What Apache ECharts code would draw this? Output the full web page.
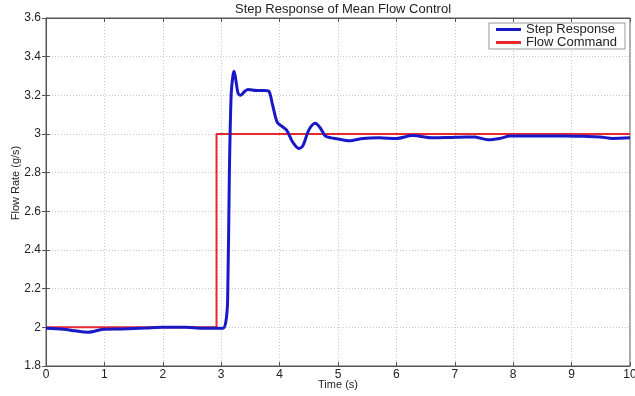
<!DOCTYPE html>
<html>
<head>
<meta charset="utf-8">
<script src="https://cdn.jsdelivr.net/npm/echarts@6/dist/echarts.min.js"></script>
<style>
  html, body { margin: 0; padding: 0; background: #fff; }
  #chart { width: 635px; height: 396px; }
</style>
</head>
<body>
<div id="chart"></div>
<script>
// step response samples (time s, flow g/s)
const respTime = [0, 0.3, 0.5, 0.72, 0.98, 1.3, 1.7, 2.0, 2.4, 2.64, 2.9, 3.03, 3.08, 3.11, 3.14, 3.17, 3.2, 3.22, 3.25, 3.29, 3.33, 3.4, 3.46, 3.6, 3.75, 3.82, 3.88, 3.96, 4.04, 4.12, 4.22, 4.33, 4.4, 4.5, 4.61, 4.7, 4.78, 4.88, 4.98, 5.19, 5.43, 5.7, 6.0, 6.28, 6.63, 6.9, 7.2, 7.35, 7.57, 7.77, 7.95, 8.3, 8.6, 8.92, 9.2, 9.49, 9.7, 10]
const respFlow = [1.995, 1.99, 1.982, 1.975, 1.99, 1.992, 1.996, 2.0, 2.0, 1.995, 1.995, 1.995, 2.03, 2.14, 2.8, 3.2, 3.3, 3.325, 3.28, 3.21, 3.2, 3.22, 3.23, 3.225, 3.225, 3.22, 3.15, 3.06, 3.04, 3.02, 2.96, 2.925, 2.94, 3.02, 3.055, 3.03, 2.99, 2.98, 2.975, 2.965, 2.977, 2.98, 2.977, 2.992, 2.98, 2.982, 2.985, 2.984, 2.97, 2.977, 2.99, 2.99, 2.99, 2.99, 2.988, 2.985, 2.977, 2.98]

// flow command
const cmdTime = [0, 2.92, 2.92, 10]
const cmdFlow = [2, 2, 3, 3]

const xTicks = [0, 1, 2, 3, 4, 5, 6, 7, 8, 9, 10]
const yTicks = [1.8, 2, 2.2, 2.4, 2.6, 2.8, 3, 3.2, 3.4, 3.6]

const font = 'Liberation Sans, Arial, sans-serif'

const chart = echarts.init(document.getElementById('chart'))

const gridLine = { show: true, lineStyle: { color: '#c8c8c8', type: [1, 2], width: 1 } }

const option = {
  animation: false,
  backgroundColor: '#fff',
  title: {
    text: 'Step Response of Mean Flow Control',
    left: 338,
    textAlign: 'center',
    top: -2,
    textStyle: { fontFamily: font, fontSize: 13, fontWeight: 'normal', color: '#222' }
  },
  legend: {
    right: 10,
    top: 23,
    orient: 'vertical',
    itemWidth: 25,
    itemHeight: 3,
    itemGap: 0,
    padding: [0, 8, 0, 7],
    borderColor: '#999',
    borderWidth: 1,
    backgroundColor: '#fff',
    icon: 'rect',
    textStyle: { fontFamily: font, fontSize: 13, lineHeight: 12, color: '#222' },
    data: ['Step Response', 'Flow Command']
  },
  grid: {
    left: 46, right: 5, top: 18, bottom: 30,
    containLabel: false, outerBoundsMode: 'none',
    show: true, borderColor: '#555', borderWidth: 1
  },
  xAxis: [{
    type: 'value',
    min: 0, max: 10, interval: 1,
    name: 'Time (s)',
    nameLocation: 'middle',
    nameGap: 13,
    nameMoveOverlap: false,
    nameTextStyle: { fontFamily: font, fontSize: 11, color: '#222' },
    axisLine: { show: true, lineStyle: { color: '#555' } },
    axisTick: { inside: true, length: 4, lineStyle: { color: '#555' } },
    axisLabel: { fontFamily: font, fontSize: 12, color: '#222', margin: 3,
      formatter: v => xTicks.includes(v) ? String(v) : '' },
    splitLine: gridLine
  }, {
    type: 'value', position: 'top', min: 0, max: 10, interval: 1,
    axisLine: { show: true, lineStyle: { color: '#555' } },
    axisTick: { inside: true, length: 4, lineStyle: { color: '#555' } },
    axisLabel: { show: false }, splitLine: { show: false }
  }],
  yAxis: [{
    type: 'value',
    min: 1.8, max: 3.6, interval: 0.2,
    name: 'Flow Rate (g/s)',
    nameLocation: 'middle',
    nameGap: 25,
    nameMoveOverlap: false,
    nameTextStyle: { fontFamily: font, fontSize: 11, color: '#222', padding: [0, 0, 0, 18] },
    axisLine: { show: true, lineStyle: { color: '#555' } },
    axisTick: { inside: true, length: 4, lineStyle: { color: '#555' } },
    axisLabel: { fontFamily: font, fontSize: 12, color: '#222', margin: 5,
      formatter: v => String(Math.round(v * 10) / 10) },
    splitLine: gridLine
  }, {
    type: 'value', position: 'right', min: 1.8, max: 3.6, interval: 0.2,
    axisLine: { show: true, lineStyle: { color: '#555' } },
    axisTick: { inside: true, length: 4, lineStyle: { color: '#555' } },
    axisLabel: { show: false }, splitLine: { show: false }
  }],
  series: [
    {
      name: 'Step Response',
      type: 'line',
      smooth: 0.3,
      showSymbol: false,
      lineStyle: { color: '#1818c8', width: 3 },
      itemStyle: { color: '#1818c8' },
      z: 3,
      data: respTime.map((t, i) => [t, respFlow[i]])
    },
    {
      name: 'Flow Command',
      type: 'line',
      showSymbol: false,
      lineStyle: { color: '#e8282c', width: 2 },
      itemStyle: { color: '#e8282c' },
      z: 2,
      data: cmdTime.map((t, i) => [t, cmdFlow[i]])
    }
  ]
}

chart.setOption(option)
</script>
</body>
</html>
